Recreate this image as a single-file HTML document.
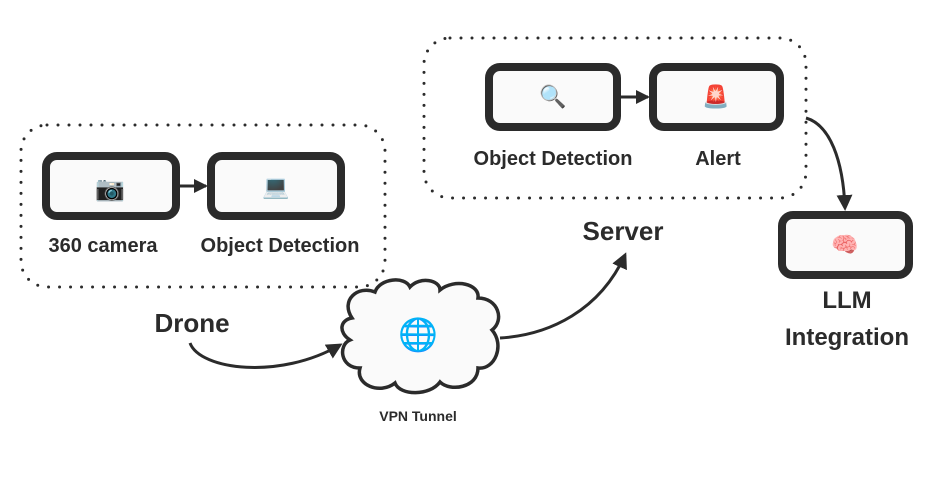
<!DOCTYPE html>
<html><head><meta charset="utf-8"><style>
html,body{margin:0;padding:0;background:#fff;width:936px;height:486px;overflow:hidden}
text{font-family:"Liberation Sans","DejaVu Sans",sans-serif;font-weight:bold;fill:#2b2b2b}
</style></head><body>
<svg width="936" height="486" viewBox="0 0 936 486" xmlns="http://www.w3.org/2000/svg">
<defs>
<marker id="ah" markerWidth="14" markerHeight="14" refX="12" refY="7" orient="auto" markerUnits="userSpaceOnUse">
<path d="M0,0 L14,7 L0,14 z" fill="#2b2b2b"/></marker>
<marker id="ah2" markerWidth="16" markerHeight="16" refX="13" refY="8" orient="auto" markerUnits="userSpaceOnUse">
<path d="M0,0 L16,8 L0,16 z" fill="#2b2b2b"/></marker>
</defs>
<g fill="none" stroke="#2b2b2b" stroke-width="3" stroke-dasharray="0 11" stroke-linecap="round">
<rect x="21" y="125" width="364" height="162" rx="26"/>
<rect x="424" y="38" width="382" height="160" rx="26"/>
</g>
<g fill="#fafafa" stroke="#2b2b2b" stroke-width="8">
<rect x="46" y="156" width="130" height="60" rx="11"/>
<rect x="211" y="156" width="130" height="60" rx="11"/>
<rect x="489" y="67" width="128" height="60" rx="11"/>
<rect x="653" y="67" width="127" height="60" rx="11"/>
<rect x="782" y="215" width="127" height="60" rx="11"/>
</g>
<g stroke="#2b2b2b" stroke-width="3" fill="none">
<line x1="176" y1="186" x2="206" y2="186" marker-end="url(#ah)"/>
<line x1="617" y1="97" x2="648" y2="97" marker-end="url(#ah)"/>
<path d="M806,118 C830,125 843,160 845,208" marker-end="url(#ah2)"/>
<path d="M190,343 C200,370 280,380 340,345" marker-end="url(#ah2)"/>
<path d="M500,338 C550,335 600,310 625,255" marker-end="url(#ah2)"/>
</g>
<path d="M352,318 C340,300 358,285 375,292 C380,278 405,276 410,287 C420,276 440,280 440,290 C455,278 480,284 478,298 C498,298 505,320 492,330 C505,345 495,370 478,368 C478,388 450,392 440,382 C430,396 400,396 395,383 C380,395 355,385 360,368 C340,368 338,345 350,340 C338,332 340,320 352,318 z" fill="#fafafa" stroke="#2b2b2b" stroke-width="3.5"/>
<g text-anchor="middle" dominant-baseline="middle">
<text x="110" y="190" font-size="24">📷</text>
<text x="276" y="188" font-size="22">💻</text>
<text x="553" y="98" font-size="22">🔍</text>
<text x="716" y="98" font-size="22">🚨</text>
<text x="845" y="246" font-size="22">🧠</text>
<text x="418" y="337" font-size="32">🌐</text>
</g>
<g text-anchor="middle">
<text x="103" y="252" font-size="20">360 camera</text>
<text x="280" y="252" font-size="20">Object Detection</text>
<text x="553" y="165" font-size="20">Object Detection</text>
<text x="718" y="165" font-size="20">Alert</text>
<text x="623" y="240" font-size="26">Server</text>
<text x="192" y="332" font-size="26">Drone</text>
<text x="847" y="308" font-size="24">LLM</text>
<text x="847" y="345" font-size="24">Integration</text>
<text x="418" y="421" font-size="14">VPN Tunnel</text>
</g>
</svg>
</body></html>
